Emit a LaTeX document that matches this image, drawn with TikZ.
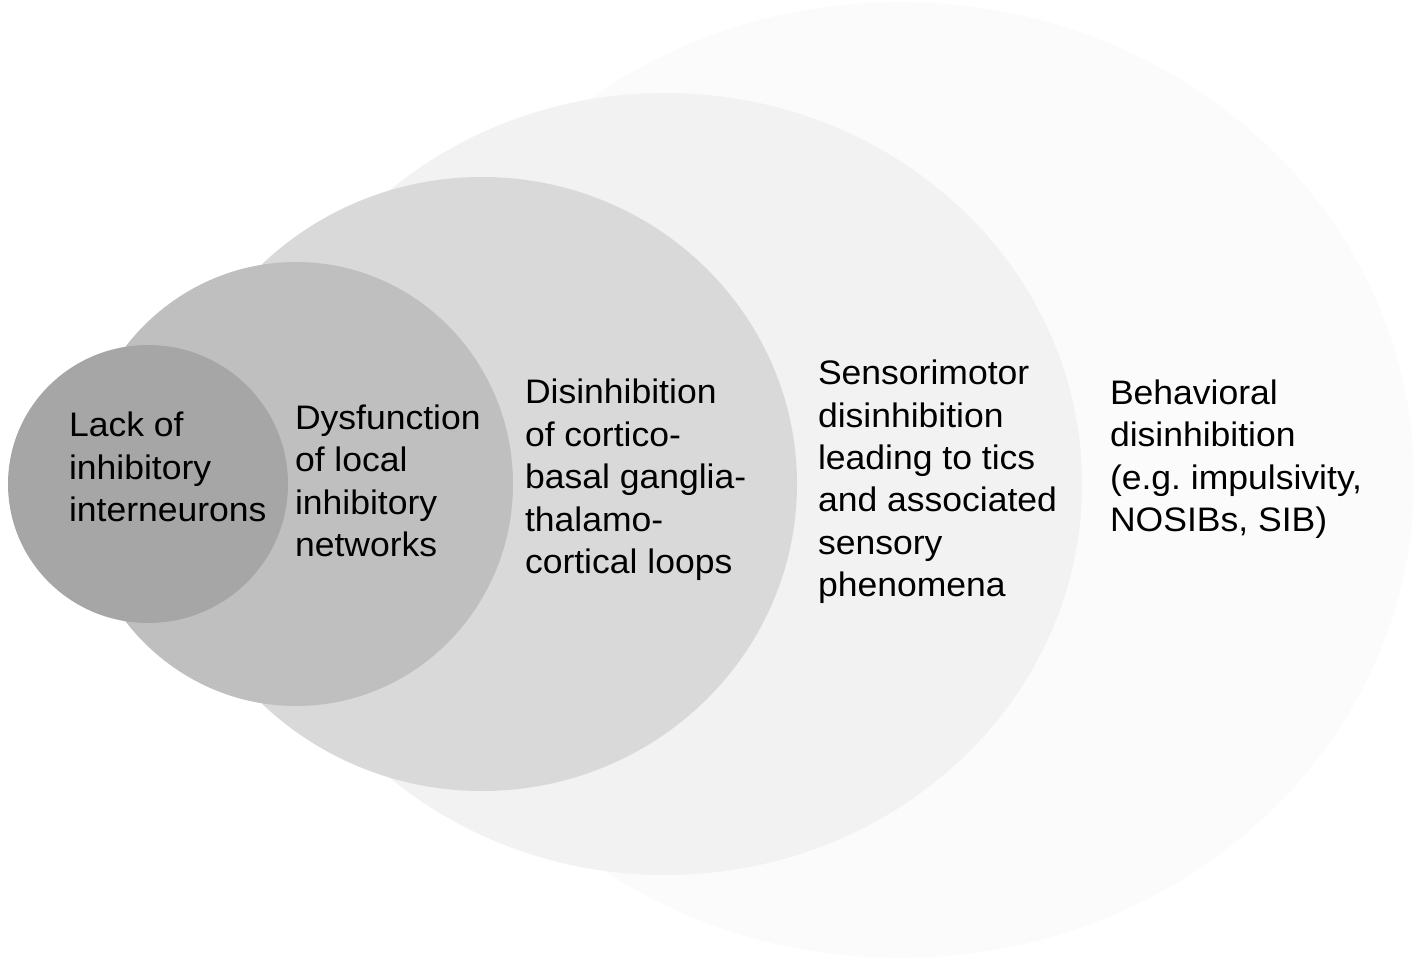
\documentclass[tikz,border=0pt]{standalone}
\usepackage{fontspec}
\setmainfont[FakeStretch=1.045]{Liberation Sans}
\definecolor{layerA}{HTML}{A6A6A6}
\definecolor{layerB}{HTML}{BFBFBF}
\definecolor{layerC}{HTML}{D9D9D9}
\definecolor{layerD}{HTML}{F2F2F2}
\definecolor{layerE}{HTML}{FBFBFB}
\begin{document}
\begin{tikzpicture}[x=1pt,y=-1pt,inner sep=0pt,outer sep=0pt,
layertext/.style={anchor=west,align=left,inner sep=0pt,font=\fontsize{34}{42.4}\selectfont}]
\useasboundingbox (0,0) rectangle (1417,960);
% nested layers, outermost first
\fill[layerE] (900,480) ellipse [x radius=514,y radius=478];
\fill[layerD] (665,484) ellipse [x radius=417,y radius=391];
\fill[layerC] (482,484) ellipse [x radius=315,y radius=307];
\fill[layerB] (296,484) ellipse [x radius=217,y radius=222];
\fill[layerA] (148,484) ellipse [x radius=140,y radius=139];
% labels
\draw (69,467) node[layertext] (lack) {Lack of\\inhibitory\\interneurons};
\draw (295,481) node[layertext] (local) {Dysfunction\\of local\\inhibitory\\networks};
\draw (525,480) node[layertext] (loops) {Disinhibition\\of cortico-\\basal ganglia-\\thalamo-\\cortical loops};
\draw (818,482) node[layertext] (sensori) {Sensorimotor\\disinhibition\\leading to tics\\and associated\\sensory\\phenomena};
\draw (1110,459) node[layertext] (behav) {Behavioral\\disinhibition\\(e.g.\ impulsivity,\\NOSIBs, SIB)};
\end{tikzpicture}
\end{document}
